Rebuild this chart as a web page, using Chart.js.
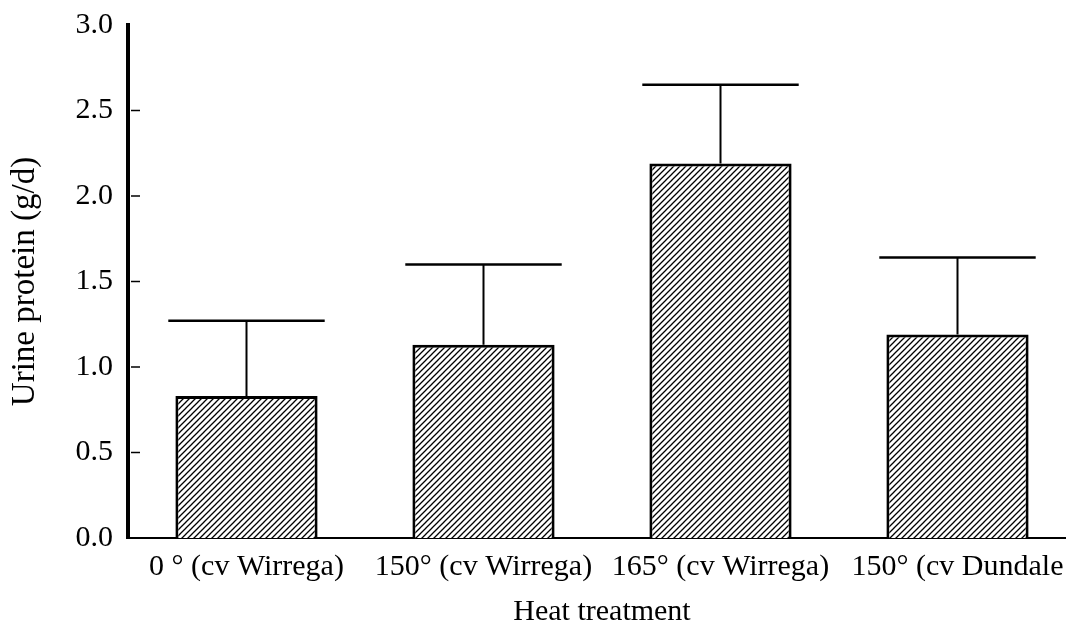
<!DOCTYPE html>
<html>
<head>
<meta charset="utf-8">
<script src="https://cdn.jsdelivr.net/npm/chart.js@4/dist/chart.umd.min.js"></script>
<style>
  body { margin: 0; background: #fff; overflow: hidden; }
  /* a bit wider than the window so the last category sits where the original's does */
  #wrap { width: 1076px; height: 627px; }
</style>
</head>
<body>
<div id="wrap"><canvas id="chart"></canvas></div>
<script>
const categories = ['0 \u00b0 (cv Wirrega)', '150\u00b0 (cv Wirrega)', '165\u00b0 (cv Wirrega)', '150\u00b0 (cv Dundale'];
const meanProtein = [0.83, 1.13, 2.19, 1.19];
const upperError = [1.27, 1.60, 2.65, 1.64];
const yTicks = [0, 0.5, 1.0, 1.5, 2.0, 2.5, 3.0];

const serif = 'Liberation Serif, Times New Roman, serif';

// diagonal hatch fill for the bars
function makeHatch() {
    const c = document.createElement('canvas');
    c.width = 6;
    c.height = 6;
    const g = c.getContext('2d');
    g.fillStyle = '#fff';
    g.fillRect(0, 0, 6, 6);
    g.strokeStyle = '#000';
    g.lineWidth = 1.3;
    g.beginPath();
    g.moveTo(-1, 7); g.lineTo(7, -1);
    g.moveTo(-4, 4); g.lineTo(4, -4);
    g.moveTo(2, 10); g.lineTo(10, 2);
    g.stroke();
    return g.createPattern(c, 'repeat');
}

const errorBars = {
    id: 'errorBars',
    afterDatasetsDraw(chart) {
        const ctx = chart.ctx;
        const y = chart.scales.y;
        const meta = chart.getDatasetMeta(0);
        ctx.save();
        ctx.strokeStyle = '#000';
        meta.data.forEach((bar, i) => {
            const top = y.getPixelForValue(upperError[i]);
            const half = bar.width * 0.55;
            ctx.lineWidth = 2;
            ctx.beginPath();
            ctx.moveTo(bar.x, bar.y);
            ctx.lineTo(bar.x, top);
            ctx.stroke();
            ctx.lineWidth = 2.5;
            ctx.beginPath();
            ctx.moveTo(bar.x - half, top);
            ctx.lineTo(bar.x + half, top);
            ctx.stroke();
        });
        // small inside tick marks on the y axis
        const left = chart.chartArea.left;
        ctx.lineWidth = 1.5;
        yTicks.forEach(v => {
            if (v === 0 || v === 3.0) return;
            const py = y.getPixelForValue(v);
            ctx.beginPath();
            ctx.moveTo(left + 3, py);
            ctx.lineTo(left + 12, py);
            ctx.stroke();
        });
        ctx.restore();
    }
};

new Chart(document.getElementById('chart'), {
    type: 'bar',
    data: {
        labels: categories,
        datasets: [{
            data: meanProtein,
            backgroundColor: makeHatch(),
            borderColor: '#000',
            borderWidth: 3,
            borderSkipped: 'bottom',
            categoryPercentage: 1.0,
            barPercentage: 0.6
        }]
    },
    options: {
        responsive: true,
        maintainAspectRatio: false,
        animation: false,
        layout: { padding: { top: 25, right: 0, left: 0, bottom: 0 } },
        plugins: {
            legend: { display: false },
            tooltip: { enabled: false }
        },
        scales: {
            x: {
                grid: { display: false, drawTicks: false, tickLength: 0 },
                border: { display: true, color: '#000', width: 2 },
                ticks: {
                    color: '#000',
                    font: { family: serif, size: 30 },
                    padding: 11,
                    maxRotation: 0,
                    autoSkip: false
                },
                title: {
                    display: true,
                    text: 'Heat treatment',
                    color: '#000',
                    font: { family: serif, size: 30, lineHeight: 1.0 },
                    padding: { top: 0, bottom: 0 }
                },
                afterFit(scale) { scale.height = 89; }
            },
            y: {
                min: 0,
                max: 3,
                grid: { display: false, drawTicks: false, tickLength: 0 },
                border: { display: true, color: '#000', width: 4 },
                ticks: {
                    stepSize: 0.5,
                    color: '#000',
                    font: { family: serif, size: 30 },
                    padding: 15,
                    callback: v => v.toFixed(1)
                },
                title: {
                    display: true,
                    text: 'Urine protein (g/d)',
                    color: '#000',
                    font: { family: serif, size: 33 },
                    padding: { top: 6, bottom: 0 }
                },
                afterFit(scale) {
                    scale.width = 128;
                    scale.paddingTop = 0;
                    scale.paddingBottom = 0;
                }
            }
        }
    },
    plugins: [errorBars]
});
</script>
</body>
</html>
